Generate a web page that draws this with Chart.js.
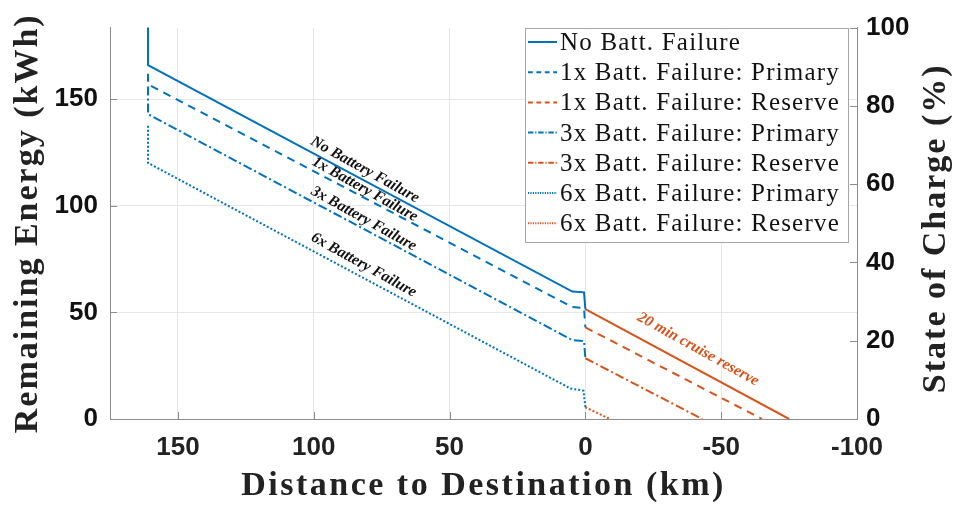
<!DOCTYPE html>
<html>
<head>
<meta charset="utf-8">
<title>Remaining Energy vs Distance to Destination</title>
<script src="https://cdn.jsdelivr.net/npm/chart.js@4.4.1/dist/chart.umd.min.js"></script>
<style>
  html, body { margin: 0; padding: 0; background: #fff; }
  #wrap { width: 956px; height: 508px; }
</style>
</head>
<body>
<div id="wrap"><canvas id="energyChart" width="956" height="508"></canvas></div>
<script>
// Distance to destination (km) / remaining energy (kWh) for each case
const noFailKm = [161, 161, 4.8, 0.5, 0];
const noFailKwh = [184, 166, 59.8, 59.4, 51.5];
const noFailResKm = [0, -75];
const noFailResKwh = [51.5, 0];

const fail1PrimKm = [161, 161, 4.8, 0.5, 0];
const fail1PrimKwh = [162, 157, 52.5, 52, 43];
const fail1ResKm = [0, -65];
const fail1ResKwh = [43, 0];

const fail3PrimKm = [161, 161, 4.8, 0.5, 0];
const fail3PrimKwh = [156, 143, 37, 36.5, 28.5];
const fail3ResKm = [0, -43];
const fail3ResKwh = [28.5, 0];

const fail6PrimKm = [161, 161, 5.5, 0.7, 0];
const fail6PrimKwh = [137.6, 120.1, 14.3, 13.3, 5.5];
const fail6ResKm = [0, -9];
const fail6ResKwh = [5.5, 0];

// tick labels
const xTickValues = [150, 100, 50, 0, -50, -100];
const energyTickValues = [0, 50, 100, 150];
const socTickValues = [0, 20, 40, 60, 80, 100];

// in-plot labels (text, km, kWh)
const noteTexts = ['No Battery Failure', '1x Battery Failure', '3x Battery Failure', '6x Battery Failure', '20 min cruise reserve'];
const noteKm = [81.2, 81.2, 81.6, 81.6, -41.5];
const noteKwh = [116.9, 107.7, 93.9, 72.2, 32.7];

const BLUE = '#0072BD';
const RED = '#D95319';

function toPoints(xs, ys) {
    return xs.map((x, i) => ({ x: x, y: ys[i] }));
}

function series(label, xs, ys, color, dash, inLegend) {
    return {
        label: label,
        data: toPoints(xs, ys),
        borderColor: color,
        backgroundColor: color,
        borderWidth: 2,
        borderDash: dash,
        pointRadius: 0,
        tension: 0,
        fill: false,
        inLegend: inLegend
    };
}

const DASH = [8, 6];
const DASHDOT = [9, 3, 2, 3];
const DOT = [2, 2];

const datasets = [
    series('No Batt. Failure', noFailKm, noFailKwh, BLUE, [], true),
    series('1x Batt. Failure: Primary', fail1PrimKm, fail1PrimKwh, BLUE, DASH, true),
    series('1x Batt. Failure: Reserve', fail1ResKm, fail1ResKwh, RED, DASH, true),
    series('3x Batt. Failure: Primary', fail3PrimKm, fail3PrimKwh, BLUE, DASHDOT, true),
    series('3x Batt. Failure: Reserve', fail3ResKm, fail3ResKwh, RED, DASHDOT, true),
    series('6x Batt. Failure: Primary', fail6PrimKm, fail6PrimKwh, BLUE, DOT, true),
    series('6x Batt. Failure: Reserve', fail6ResKm, fail6ResKwh, RED, DOT, true),
    series('No Batt. Failure: Reserve', noFailResKm, noFailResKwh, RED, [], false)
];

const AXIS_GRAY = '#8c8c8c';
const GRID_GRAY = '#e6e6e6';
const TICK_FONT = { family: '"Liberation Sans", Arial, sans-serif', size: 26, weight: 'bold' };

// titles, inward tick marks, slanted notes and the boxed legend
const decorations = {
    id: 'decorations',
    afterDatasetsDraw(chart) {
        const ctx = chart.ctx;
        const xs = chart.scales.x, ys = chart.scales.y;
        ctx.save();
        ctx.textAlign = 'center';
        ctx.textBaseline = 'middle';
        ctx.font = 'italic bold 15.5px "Liberation Serif", "Times New Roman", serif';
        noteTexts.forEach((txt, i) => {
            ctx.save();
            ctx.translate(xs.getPixelForValue(noteKm[i]), ys.getPixelForValue(noteKwh[i]));
            ctx.rotate(29 * Math.PI / 180);
            ctx.fillStyle = i === 4 ? RED : '#111';
            ctx.fillText(txt, 0, 0);
            ctx.restore();
        });
        ctx.restore();
    },
    afterDraw(chart) {
        const ctx = chart.ctx;
        const area = chart.chartArea;
        const xs = chart.scales.x, ys = chart.scales.y, soc = chart.scales.y1;

        // inward tick marks
        ctx.save();
        ctx.strokeStyle = AXIS_GRAY;
        ctx.lineWidth = 1;
        ctx.beginPath();
        xTickValues.forEach(v => {
            const px = Math.round(xs.getPixelForValue(v)) + 0.5;
            ctx.moveTo(px, area.bottom);
            ctx.lineTo(px, area.bottom - 7);
        });
        energyTickValues.forEach(v => {
            const py = Math.round(ys.getPixelForValue(v)) + 0.5;
            ctx.moveTo(area.left, py);
            ctx.lineTo(area.left + 7, py);
        });
        socTickValues.forEach(v => {
            const py = Math.round(soc.getPixelForValue(v)) + 0.5;
            ctx.moveTo(area.right, py);
            ctx.lineTo(area.right - 7, py);
        });
        ctx.stroke();
        ctx.restore();

        // axis titles
        ctx.save();
        ctx.fillStyle = '#222';
        ctx.font = 'bold 34px "Liberation Serif", "Times New Roman", serif';
        ctx.letterSpacing = '2.5px';
        ctx.textAlign = 'center';
        ctx.textBaseline = 'alphabetic';
        ctx.fillText('Distance to Destination (km)', (area.left + area.right) / 2, 495);
        ctx.letterSpacing = '2px';
        ctx.save();
        ctx.translate(37, (area.top + area.bottom) / 2);
        ctx.rotate(-Math.PI / 2);
        ctx.fillText('Remaining Energy (kWh)', 0, 0);
        ctx.restore();
        ctx.save();
        ctx.translate(945, (area.top + area.bottom) / 2 + 5);
        ctx.rotate(-Math.PI / 2);
        ctx.fillText('State of Charge (%)', 0, 0);
        ctx.restore();
        ctx.restore();

        // legend box
        const lx = 525, ly = 28, lw = 323, lh = 214;
        ctx.save();
        ctx.fillStyle = '#fff';
        ctx.fillRect(lx, ly, lw, lh);
        ctx.strokeStyle = '#a6a6a6';
        ctx.lineWidth = 1;
        ctx.strokeRect(lx + 0.5, ly + 0.5, lw, lh);
        ctx.font = '25px "Liberation Serif", "Times New Roman", serif';
        ctx.letterSpacing = '1.2px';
        ctx.fillStyle = '#111';
        ctx.textAlign = 'left';
        ctx.textBaseline = 'alphabetic';
        let row = 0;
        chart.data.datasets.forEach(ds => {
            if (!ds.inLegend) return;
            const cy = ly + 14 + row * 30.2;
            ctx.save();
            ctx.strokeStyle = ds.borderColor;
            ctx.lineWidth = ds.borderWidth;
            ctx.setLineDash(ds.borderDash.length ? ds.borderDash.map(d => d * 0.6) : []);
            ctx.beginPath();
            ctx.moveTo(lx + 3, cy);
            ctx.lineTo(lx + 32, cy);
            ctx.stroke();
            ctx.restore();
            ctx.fillText(ds.label, lx + 35, cy + 8);
            row++;
        });
        ctx.restore();
    }
};

const ctx = document.getElementById('energyChart').getContext('2d');
const energyChart = new Chart(ctx, {
    type: 'line',
    data: { datasets: datasets },
    options: {
        responsive: false,
        animation: false,
        layout: { padding: { top: 20, left: 0, right: 0, bottom: 0 } },
        plugins: {
            legend: { display: false },
            tooltip: { enabled: false }
        },
        scales: {
            x: {
                type: 'linear',
                reverse: true,
                min: -100,
                max: 175,
                afterBuildTicks: function(scale) {
                    scale.ticks = xTickValues.map(v => ({ value: v }));
                },
                afterFit: function(scale) { scale.height = 89; },
                grid: { color: GRID_GRAY, drawTicks: false },
                border: { color: AXIS_GRAY },
                ticks: { font: TICK_FONT, color: '#222', padding: 13, maxRotation: 0 }
            },
            y: {
                position: 'left',
                min: 0,
                max: 183.6,
                afterBuildTicks: function(scale) {
                    scale.ticks = energyTickValues.map(v => ({ value: v }));
                },
                afterFit: function(scale) { scale.width = 110; },
                grid: { color: GRID_GRAY, drawTicks: false },
                border: { color: AXIS_GRAY },
                ticks: { font: TICK_FONT, color: '#111', padding: 12 }
            },
            y1: {
                position: 'right',
                min: 0,
                max: 100,
                afterBuildTicks: function(scale) {
                    scale.ticks = socTickValues.map(v => ({ value: v }));
                },
                afterFit: function(scale) { scale.width = 99; },
                grid: { drawOnChartArea: false, drawTicks: false },
                border: { color: AXIS_GRAY },
                ticks: { font: TICK_FONT, color: '#111', padding: 9 }
            }
        }
    },
    plugins: [decorations]
});
</script>
</body>
</html>
